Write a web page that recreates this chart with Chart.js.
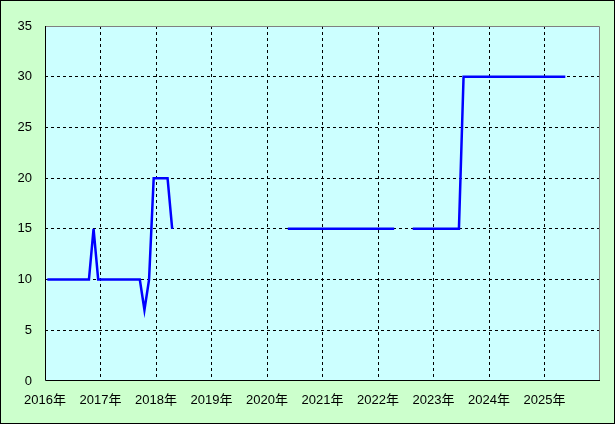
<!DOCTYPE html>
<html>
<head>
<meta charset="utf-8">
<script src="https://cdn.jsdelivr.net/npm/chart.js@4"></script>
<style>
  body { margin: 0; background: #ccffcc; }
  canvas { display: block; }
</style>
</head>
<body>
<canvas id="chart" width="615" height="424"></canvas>
<script>
// one value per month, Jan 2016 .. May 2025 (null = no data)
let values = [
  10, 10, 10, 10, 10, 10, 10, 10, 10, 10, 15, 10,                     // 2016
  10, 10, 10, 10, 10, 10, 10, 10, 10, 7, 10, 20,                      // 2017
  20, 20, 20, 15, null, null, null, null, null, null, null, null,     // 2018
  null, null, null, null, null, null, null, null, null, null, null, null, // 2019
  null, null, null, null, 15, 15, 15, 15, 15, 15, 15, 15,             // 2020
  15, 15, 15, 15, 15, 15, 15, 15, 15, 15, 15, 15,                     // 2021
  15, 15, 15, 15, null, null, null, 15, 15, 15, 15, 15,               // 2022
  15, 15, 15, 15, 15, 15, 30, 30, 30, 30, 30, 30,                     // 2023
  30, 30, 30, 30, 30, 30, 30, 30, 30, 30, 30, 30,                     // 2024
  30, 30, 30, 30, 30                                                  // 2025
];

let yearLabels = [
  "2016年", "2017年", "2018年", "2019年", "2020年",
  "2021年", "2022年", "2023年", "2024年", "2025年"
];

let yTicks = [0, 5, 10, 15, 20, 25, 30, 35];

// each month sits in the middle of its slot on the year axis
let points = values.map((v, i) => ({ x: i + 0.5, y: v }));

let frame = {
  id: 'frame',
  beforeDraw(chart) {
    let ctx = chart.ctx;
    let a = chart.chartArea;
    ctx.save();
    ctx.fillStyle = '#ccffcc';
    ctx.fillRect(0, 0, chart.width, chart.height);
    ctx.fillStyle = '#ccffff';
    ctx.fillRect(a.left, a.top, a.right - a.left, a.bottom - a.top);
    ctx.restore();
  },
  afterDraw(chart) {
    let ctx = chart.ctx;
    let a = chart.chartArea;
    ctx.save();
    ctx.lineWidth = 1;
    ctx.strokeStyle = '#808080';
    ctx.beginPath();
    ctx.moveTo(a.left, a.top + 0.5);
    ctx.lineTo(a.right - 0.5, a.top + 0.5);
    ctx.lineTo(a.right - 0.5, a.bottom);
    ctx.stroke();
    ctx.strokeStyle = '#000000';
    ctx.beginPath();
    ctx.moveTo(a.left + 0.5, a.top);
    ctx.lineTo(a.left + 0.5, a.bottom - 0.5);
    ctx.lineTo(a.right, a.bottom - 0.5);
    ctx.stroke();
    ctx.strokeRect(0.5, 0.5, chart.width - 1, chart.height - 1);
    ctx.restore();
  }
};

let font = { family: "'Liberation Sans', 'Noto Sans CJK JP', sans-serif", size: 13 };

let config = {
  type: 'line',
  data: {
    datasets: [{
      data: points,
      borderColor: '#0000ff',
      borderWidth: 2.5,
      pointRadius: 0,
      tension: 0,
      spanGaps: false
    }]
  },
  options: {
    responsive: false,
    animation: false,
    layout: { padding: { left: 0, top: 26, right: 15, bottom: 0 } },
    plugins: { legend: { display: false }, tooltip: { enabled: false } },
    scales: {
      x: {
        type: 'linear',
        min: 0,
        max: 120,
        afterFit(scale) { scale.height = 43; },
        afterBuildTicks(scale) {
          scale.ticks = yearLabels.map((l, i) => ({ value: i * 12 })).concat([{ value: 120 }]);
        },
        ticks: {
          autoSkip: false,
          maxRotation: 0,
          padding: 12,
          color: '#000000',
          font: font,
          callback: (v) => yearLabels[v / 12] || ''
        },
        border: { display: false, dash: [3, 3] },
        grid: {
          drawTicks: false,
          color: (c) => (c.tick.value === 0 || c.tick.value === 120) ? 'rgba(0,0,0,0)' : '#000000',
          lineWidth: 1
        }
      },
      y: {
        min: 0,
        max: 35,
        afterFit(scale) { scale.width = 45; },
        afterBuildTicks(scale) {
          scale.ticks = yTicks.map((v) => ({ value: v }));
        },
        ticks: {
          padding: 13,
          color: '#000000',
          font: font
        },
        border: { display: false, dash: [3, 3] },
        grid: {
          drawTicks: false,
          color: (c) => (c.tick.value === 0 || c.tick.value === 35) ? 'rgba(0,0,0,0)' : '#000000',
          lineWidth: 1
        }
      }
    }
  },
  plugins: [frame]
};

let ctx = document.getElementById('chart').getContext('2d');
let myChart = new Chart(ctx, config);
</script>
</body>
</html>
